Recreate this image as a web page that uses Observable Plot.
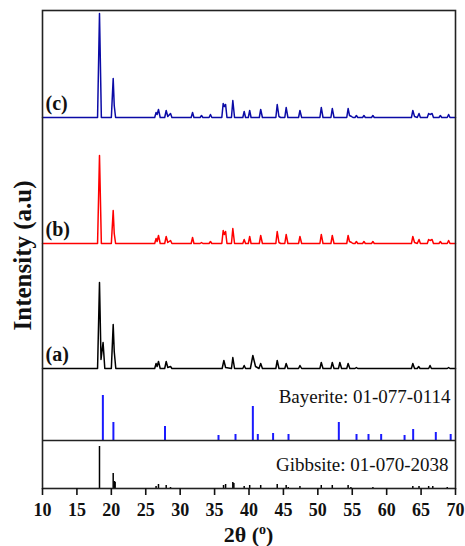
<!DOCTYPE html>
<html>
<head>
<meta charset="utf-8">
<script src="https://cdn.jsdelivr.net/npm/d3@7"></script>
<script src="https://cdn.jsdelivr.net/npm/@observablehq/plot@0.6"></script>
<style>
  body { margin: 0; background: #fff; }
  #chart svg { display: block; }
</style>
</head>
<body>
<div id="chart"></div>
<script>
// XRD patterns: [2θ, intensity (a.u.)] vertices of each measured trace
const traceA = [
  [10,0],[18.0,0],[18.28,86],[18.5,9],[18.8,26],[19.05,0],
  [20.0,0],[20.27,44],[20.42,17],[20.65,0],
  [26.3,0],[26.5,5],[26.65,2],[26.85,7],[27.1,0],
  [27.75,0],[27.97,7],[28.2,1],[28.6,2],[28.8,0],
  [36.1,0],[36.35,8],[36.6,1],[37.45,0],[37.65,11],[37.9,0],
  [39.1,0],[39.3,3],[39.5,0],
  [40.2,0],[40.56,13],[40.95,2],[41.45,0],[41.7,5],[41.95,0],
  [43.9,0],[44.1,8],[44.35,0],
  [45.2,0],[45.4,5],[45.65,0],
  [47.2,0],[47.4,3],[47.65,0],
  [50.3,0],[50.5,6],[50.75,0],
  [51.9,0],[52.1,6],[52.35,0],
  [53.0,0],[53.2,6],[53.45,0],
  [54.2,0],[54.4,5],[54.65,0],
  [55.4,0],[55.6,1],[55.8,0],
  [63.6,0],[63.8,5],[64.05,0],[64.45,0],[64.65,2],[64.85,0],
  [66.1,0],[66.3,3],[66.5,0],
  [68.8,0],[69.0,1],[69.2,0],[70,0]
];
const traceB = [
  [10,0],[18.0,0],[18.28,88],[18.55,0],
  [20.0,0],[20.27,33],[20.42,10],[20.62,0],
  [26.3,0],[26.5,5],[26.65,2],[26.85,8],[27.1,0],
  [27.75,0],[27.97,7],[28.2,1],[28.6,3],[28.8,0],
  [31.6,0],[31.8,6],[32.0,0],
  [32.9,0],[33.1,1],[33.3,0],
  [34.2,0],[34.4,2],[34.6,0],
  [36.05,0],[36.25,13],[36.42,9],[36.6,12],[36.8,0],
  [37.45,0],[37.65,15],[37.9,0],
  [39.1,0],[39.3,4],[39.5,0],
  [39.9,0],[40.1,7],[40.3,0],
  [41.5,0],[41.7,8],[41.95,0],
  [43.9,0],[44.1,12],[44.35,1],[44.6,0],
  [45.2,0],[45.4,9],[45.65,0],
  [47.2,0],[47.4,7],[47.65,0],
  [50.3,0],[50.5,9],[50.75,0],
  [51.9,0],[52.1,8],[52.35,0],
  [54.2,0],[54.4,8],[54.6,2],[54.9,1],[55.1,0],
  [55.4,0],[55.6,2],[55.8,0],
  [56.5,0],[56.7,2],[56.9,0],
  [57.8,0],[58.0,2],[58.2,0],
  [63.6,0],[63.8,7],[64.05,1],[64.45,0],[64.7,4],[64.9,0],
  [65.9,0],[66.1,4],[66.3,3],[66.6,4],[66.8,0],
  [67.6,0],[67.8,2],[68.0,0],
  [68.8,0],[69.0,3],[69.2,0],[70,0]
];
const traceC = [
  [10,0],[18.0,0],[18.28,104],[18.55,0],
  [20.0,0],[20.27,39],[20.42,12],[20.62,0],
  [26.3,0],[26.5,5],[26.65,3],[26.85,8],[27.1,0],
  [27.75,0],[27.97,7],[28.2,1],[28.6,4],[28.8,0],
  [31.6,0],[31.8,5],[32.0,0],
  [32.9,0],[33.1,2],[33.3,0],
  [34.2,0],[34.4,3],[34.6,0],
  [36.05,0],[36.25,14],[36.42,11],[36.6,13],[36.8,0],
  [37.45,0],[37.65,17],[37.9,0],
  [39.1,0],[39.3,6],[39.5,0],
  [39.9,0],[40.1,7],[40.3,0],
  [41.5,0],[41.7,8],[41.95,0],
  [43.9,0],[44.1,13],[44.35,1],[44.6,0],
  [45.2,0],[45.4,10],[45.65,0],
  [47.2,0],[47.4,7],[47.65,0],
  [50.3,0],[50.5,10],[50.75,0],
  [51.9,0],[52.1,9],[52.35,0],
  [54.2,0],[54.4,9],[54.6,2],[54.9,1],[55.1,0],
  [55.4,0],[55.6,2],[55.8,0],
  [56.5,0],[56.7,2],[56.9,0],
  [57.8,0],[58.0,2],[58.2,0],
  [63.6,0],[63.8,7],[64.05,1],[64.45,0],[64.7,4],[64.9,0],
  [65.9,0],[66.1,4],[66.3,3],[66.6,4],[66.8,0],
  [67.6,0],[67.8,2],[68.0,0],
  [68.8,0],[69.0,3],[69.2,0],[70,0]
];

// Reference patterns: [2θ, relative intensity]
const bayeritePeaks = [
  [18.77,45],[20.3,18],[27.8,14],[35.57,5],[38.04,6],[40.56,34],[41.28,6],
  [43.5,7],[45.74,6],[53.05,18],[55.62,6],[57.36,6],[59.2,6],[62.6,5],
  [63.85,11],[67.14,8],[69.3,6]
];
const gibbsitePeaks = [
  [18.28,42],[20.27,15],[20.46,7],[20.55,6],[26.5,2],[26.85,4],[27.97,3],[28.6,1],
  [36.3,3],[36.6,4],[37.65,6],[37.8,5],[39.3,2],[40.1,3],[41.7,3],[44.1,4],
  [45.4,3],[45.7,1],[47.4,2],[50.5,3],[52.1,3],[54.4,3],[54.8,1],[58.0,1],
  [63.8,2],[64.7,2],[66.1,2],[66.7,2],[68.8,1]
];

const sampleNames = ["(a)", "(b)", "(c)"];
const referenceNames = ["Bayerite: 01-077-0114", "Gibbsite: 01-070-2038"];
const xTicks = [10, 15, 20, 25, 30, 35, 40, 45, 50, 55, 60, 65, 70];

// vertical stacking of the panels (y units)
const offsets = { gibbsite: 0, bayerite: 48, a: 120, b: 245, c: 371 };
const colors = { a: "#000000", b: "#ff0000", c: "#0b0ba6", bayerite: "#1a1aff", gibbsite: "#000000" };
const serif = "'Liberation Serif', 'Times New Roman', serif";

const traces = [
  { key: "a", name: sampleNames[0], data: traceA },
  { key: "b", name: sampleNames[1], data: traceB },
  { key: "c", name: sampleNames[2], data: traceC }
];

const marks = [];
for (const t of traces) {
  marks.push(Plot.line(t.data, {
    x: d => d[0], y: d => offsets[t.key] + d[1],
    stroke: colors[t.key], strokeWidth: 1.5, strokeLinejoin: "round"
  }));
  marks.push(Plot.text([t.name], {
    x: 10, y: offsets[t.key], text: d => d,
    textAnchor: "start", dx: 3, dy: -14,
    fontSize: 20, fontWeight: "bold", fontFamily: serif, fill: "#111"
  }));
}
marks.push(
  Plot.ruleX(bayeritePeaks, {
    x: d => d[0], y1: offsets.bayerite, y2: d => offsets.bayerite + d[1],
    stroke: colors.bayerite, strokeWidth: 2
  }),
  Plot.ruleX(gibbsitePeaks, {
    x: d => d[0], y1: offsets.gibbsite, y2: d => offsets.gibbsite + d[1],
    stroke: colors.gibbsite, strokeWidth: 1.5
  }),
  Plot.ruleY([offsets.bayerite], { stroke: "#222", strokeWidth: 1.6 }),
  Plot.text([referenceNames[0]], {
    frameAnchor: "right", y: offsets.bayerite + 44, text: d => d,
    textAnchor: "end", dx: -5, fontSize: 19, fontWeight: "normal", fontFamily: serif, fill: "#111"
  }),
  Plot.text([referenceNames[1]], {
    frameAnchor: "right", y: offsets.gibbsite + 24, text: d => d,
    textAnchor: "end", dx: -7, fontSize: 19, fontWeight: "normal", fontFamily: serif, fill: "#111"
  }),
  Plot.frame({ stroke: "#222", strokeWidth: 1.6 }),
  Plot.axisX(xTicks, {
    tickSize: 7, tickPadding: 8, strokeWidth: 1.6, label: null,
    fontSize: 18, fontWeight: "bold", fontFamily: serif
  }),
  Plot.text(["Intensity (a.u)"], {
    frameAnchor: "left", textAnchor: "middle", text: d => d, rotate: -90, dx: -20, dy: 6,
    fontSize: 25, fontWeight: "bold", fontFamily: serif, fill: "#111"
  })
);

const chart = Plot.plot({
  width: 465,
  height: 546,
  marginLeft: 42,
  marginRight: 10,
  marginTop: 10,
  marginBottom: 58,
  x: { domain: [10, 70] },
  y: { domain: [0, 478], axis: null },
  style: { fontFamily: serif, fontSize: "16px", color: "#111", background: "#fff", overflow: "visible" },
  marks
});

// x axis title with superscript degree mark
const svg = d3.select(chart);
const title = svg.append("text")
  .attr("x", 248.5).attr("y", 542)
  .attr("text-anchor", "middle")
  .attr("font-family", serif).attr("font-size", 22).attr("font-weight", "bold")
  .attr("fill", "#111");
title.append("tspan").text("2θ (");
title.append("tspan").text("o").attr("font-size", 14).attr("dy", -8);
title.append("tspan").text(")").attr("dy", 8);

document.getElementById("chart").append(chart);
</script>
</body>
</html>
